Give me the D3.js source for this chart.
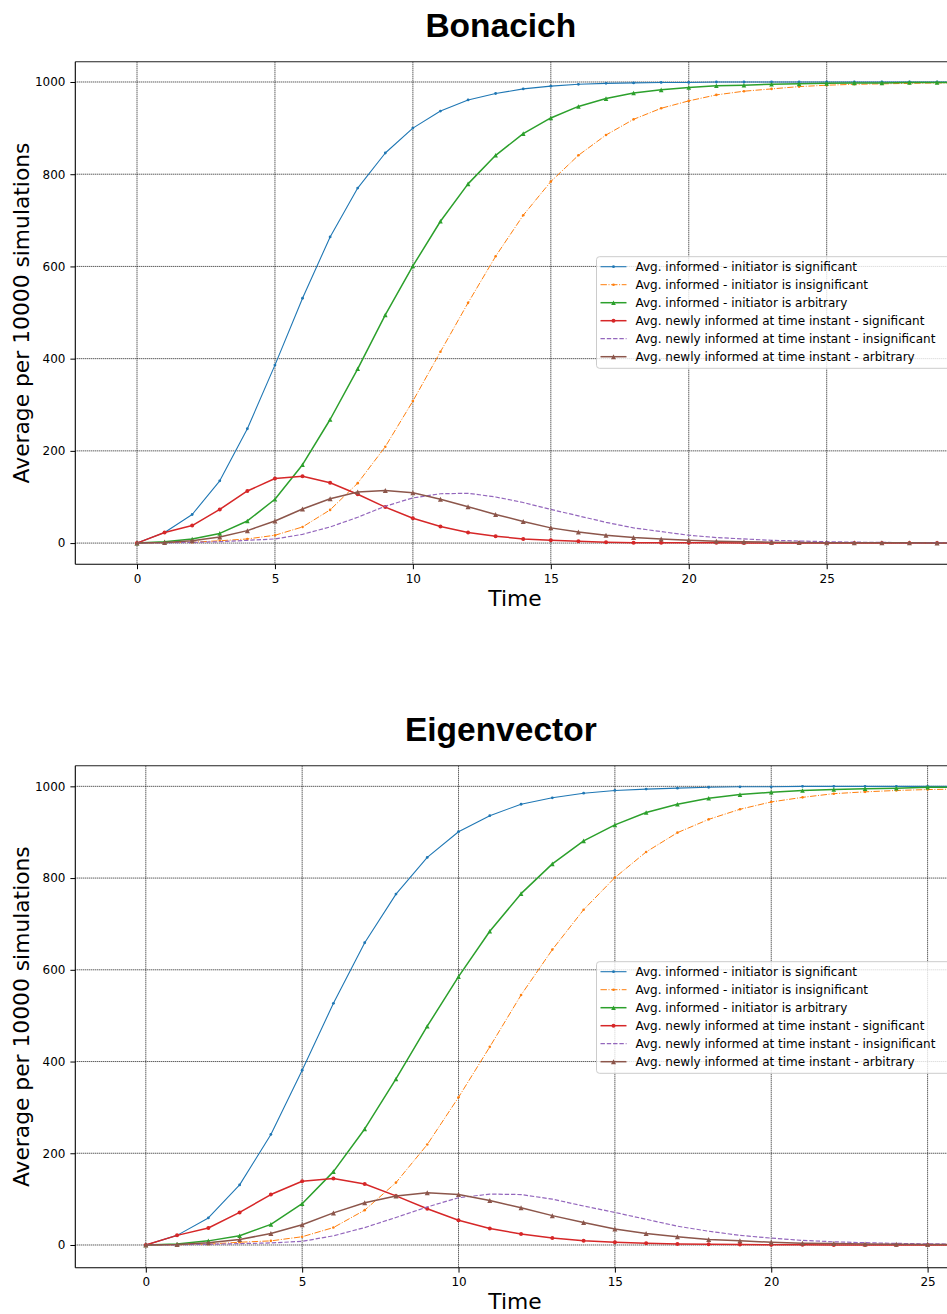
<!DOCTYPE html>
<html>
<head>
<meta charset="utf-8">
<script src="https://cdn.jsdelivr.net/npm/d3@7"></script>
<style>
  html, body { margin: 0; padding: 0; background: #fff; }
  svg { display: block; }
  text { font-family: "DejaVu Sans", sans-serif; }
</style>
</head>
<body>
<svg id="chart" width="947" height="1314"></svg>
<script>
// ---- data -------------------------------------------------------------
const seriesLabels = [
  "Avg. informed - initiator is significant",
  "Avg. informed - initiator is insignificant",
  "Avg. informed - initiator is arbitrary",
  "Avg. newly informed at time instant - significant",
  "Avg. newly informed at time instant - insignificant",
  "Avg. newly informed at time instant - arbitrary"
];
const xTicks = [0, 5, 10, 15, 20, 25, 30];
const yTicks = [0, 200, 400, 600, 800, 1000];

// Bonacich, time steps 0..30
const bonSigInformed   = [0, 23, 62, 135, 248, 386, 531, 664, 770, 846, 900, 937, 961, 975, 985, 991, 995, 997, 998, 999, 999, 1000, 1000, 1000, 1000, 1000, 1000, 1000, 1000, 1000, 1000];
const bonInsigInformed = [0, 1, 2, 5, 9, 17, 35, 72, 130, 209, 308, 415, 521, 622, 711, 784, 841, 885, 919, 943, 959, 972, 980, 985, 990, 993, 995, 996, 997, 998, 998];
const bonArbInformed   = [0, 3, 9, 21, 48, 95, 170, 268, 378, 495, 601, 698, 779, 841, 888, 922, 947, 964, 976, 983, 988, 992, 993, 995, 996, 997, 998, 998, 999, 999, 999];
const bonSigNew        = [0, 23, 38, 73, 113, 140, 145, 131, 106, 78, 54, 36, 23, 15, 9, 6, 4, 2, 1, 1, 0.5, 0.5, 0, 0, 0, 0, 0, 0, 0, 0, 0];
const bonInsigNew      = [0, 0.5, 1.5, 3, 6, 9, 19, 35, 56, 80, 98, 107, 108, 100, 88, 73, 59, 45, 33, 25, 17, 12, 9, 6, 4.5, 3, 2, 1.5, 1, 1, 0.5];
const bonArbNew        = [0, 1.5, 5, 13, 27, 48, 74, 96, 111, 114, 109, 95, 79, 62, 47, 33, 24, 17, 12, 9, 6, 4, 3, 2, 1.5, 1, 1, 0.5, 0.5, 0, 0];

// Eigenvector, time steps 0..27
const eigSigInformed   = [0, 21, 59, 131, 241, 381, 527, 659, 765, 845, 901, 936, 961, 975, 985, 991, 994, 996, 998, 999, 999, 1000, 1000, 1000, 1000, 1000, 1000, 1000];
const eigInsigInformed = [0, 0.5, 2, 6, 9, 18, 38, 76, 136, 219, 322, 432, 545, 644, 731, 801, 857, 899, 928, 950, 966, 976, 984, 988, 991, 993, 994, 995];
const eigArbInformed   = [0, 2, 9, 20, 45, 90, 160, 253, 362, 477, 585, 684, 766, 831, 881, 916, 943, 961, 974, 982, 987, 991, 993, 995, 996, 998, 998, 999];
const eigSigNew        = [0, 21, 37, 71, 110, 139, 145, 133, 107, 79, 54, 36, 24, 15, 9, 6, 4, 2, 1.5, 1, 0.5, 0.5, 0, 0, 0, 0, 0, 0];
const eigInsigNew      = [0, 0.5, 1.5, 3, 4.5, 8, 20, 38, 60, 83, 103, 111, 110, 100, 85, 71, 56, 41, 30, 21, 15, 10, 7, 5, 3.5, 2.5, 2, 1.5];
const eigArbNew        = [0, 1, 5, 12, 25, 44, 70, 92, 107, 114, 110, 97, 81, 64, 49, 35, 25, 18, 12, 9, 6, 4, 3, 2, 1.5, 1, 1, 0.5];

// ---- styles -------------------------------------------------------------
const styles = [
  { color: "#1f77b4", width: 1.1, dash: null,            marker: "dot", r: 1.4 },
  { color: "#ff7f0e", width: 1.0, dash: "6.4,1.6,1,1.6", marker: "dot", r: 1.3 },
  { color: "#2ca02c", width: 1.5, dash: null,            marker: "tri", r: 2.3 },
  { color: "#d62728", width: 1.5, dash: null,            marker: "dot", r: 2.0 },
  { color: "#9467bd", width: 1.2, dash: "4.4,1.9",       marker: null,  r: 0 },
  { color: "#8c564b", width: 1.5, dash: null,            marker: "tri", r: 2.5 }
];

const panels = [
  {
    title: "Bonacich", titleY: 36.7,
    series: [bonSigInformed, bonInsigInformed, bonArbInformed, bonSigNew, bonInsigNew, bonArbNew],
    x0: 137, x25: 826.7, left: 75.3, top: 61.7, bottom: 564.3, yDomain: [-46, 1044],
    timeY: 606, legendTop: 256.7
  },
  {
    title: "Eigenvector", titleY: 741,
    series: [eigSigInformed, eigInsigInformed, eigArbInformed, eigSigNew, eigInsigNew, eigArbNew],
    x0: 145.8, x25: 927.6, left: 75.3, top: 765.7, bottom: 1267.7, yDomain: [-49.5, 1045],
    timeY: 1309, legendTop: 961.7
  }
];

const W = 947;
const svg = d3.select("#chart");

function triPath(h) {
  return `M0,${-h}L${h},${h}L${-h},${h}Z`;
}

panels.forEach((p, pi) => {
  const x = d3.scaleLinear().domain([0, 25]).range([p.x0, p.x25]);
  const y = d3.scaleLinear().domain(p.yDomain).range([p.bottom, p.top]);
  const right = W + 20;
  // only ticks whose labels fall inside the page
  const shownX = xTicks.filter(d => x(d) + 10 <= W);

  const g = svg.append("g");
  const clipId = "plot-clip-" + pi;
  svg.append("clipPath").attr("id", clipId)
    .append("rect")
    .attr("x", p.left).attr("y", p.top)
    .attr("width", right - p.left).attr("height", p.bottom - p.top);

  // title
  g.append("text")
    .attr("x", 500.8).attr("y", p.titleY)
    .attr("text-anchor", "middle")
    .style("font-family", "'Liberation Sans', Arial, sans-serif")
    .style("font-weight", "bold")
    .style("font-size", "33.5px")
    .text(p.title);

  // grid
  const grid = g.append("g").attr("clip-path", `url(#${clipId})`);
  grid.selectAll("line.gx").data(xTicks).join("line")
    .attr("x1", d => x(d)).attr("x2", d => x(d))
    .attr("y1", p.top).attr("y2", p.bottom)
    .attr("stroke", "#000").attr("stroke-width", 0.9).attr("stroke-dasharray", "1,1");
  grid.selectAll("line.gy").data(yTicks).join("line")
    .attr("x1", p.left).attr("x2", right)
    .attr("y1", d => y(d)).attr("y2", d => y(d))
    .attr("stroke", "#000").attr("stroke-width", 0.9).attr("stroke-dasharray", "1,1");

  // data lines and markers
  const plot = g.append("g").attr("clip-path", `url(#${clipId})`);
  p.series.forEach((vals, si) => {
    const st = styles[si];
    const pts = vals.map((v, t) => ({ t, v }));
    const line = d3.line().x(d => x(d.t)).y(d => y(d.v));
    plot.append("path")
      .attr("d", line(pts))
      .attr("fill", "none")
      .attr("stroke", st.color)
      .attr("stroke-width", st.width)
      .attr("stroke-dasharray", st.dash)
      .attr("stroke-linejoin", "round");
    if (st.marker === "dot") {
      plot.append("g").selectAll("circle").data(pts).join("circle")
        .attr("cx", d => x(d.t)).attr("cy", d => y(d.v)).attr("r", st.r)
        .attr("fill", st.color);
    } else if (st.marker === "tri") {
      plot.append("g").selectAll("path").data(pts).join("path")
        .attr("transform", d => `translate(${x(d.t)},${y(d.v)})`)
        .attr("d", triPath(st.r))
        .attr("fill", st.color);
    }
  });

  // spines
  g.append("line").attr("x1", p.left).attr("x2", right).attr("y1", p.top).attr("y2", p.top)
    .attr("stroke", "#222").attr("stroke-width", 1.1);
  g.append("line").attr("x1", p.left).attr("x2", right).attr("y1", p.bottom).attr("y2", p.bottom)
    .attr("stroke", "#000").attr("stroke-width", 1.1);
  g.append("line").attr("x1", p.left).attr("x2", p.left).attr("y1", p.top).attr("y2", p.bottom)
    .attr("stroke", "#000").attr("stroke-width", 1.1);

  // axes
  const xAxis = d3.axisBottom(x).tickValues(shownX).tickSize(4.9).tickPadding(4.9).tickFormat(d3.format("d"));
  const yAxis = d3.axisLeft(y).tickValues(yTicks).tickSize(4.9).tickPadding(4.9).tickFormat(d3.format("d"));
  const gx = g.append("g").attr("transform", `translate(0,${p.bottom})`).call(xAxis);
  const gy = g.append("g").attr("transform", `translate(${p.left},0)`).call(yAxis);
  [gx, gy].forEach(a => {
    a.select(".domain").remove();
    a.selectAll("line").attr("stroke", "#000").attr("stroke-width", 1);
    a.selectAll("text").attr("fill", "#000")
      .style("font-family", "'DejaVu Sans', sans-serif").style("font-size", "12px");
  });

  // axis labels
  g.append("text")
    .attr("transform", `translate(29,${(p.top + p.bottom) / 2}) rotate(-90)`)
    .attr("text-anchor", "middle")
    .style("font-size", "21.8px")
    .text("Average per 10000 simulations");
  g.append("text")
    .attr("x", 515).attr("y", p.timeY)
    .attr("text-anchor", "middle")
    .style("font-size", "21.8px")
    .text("Time");

  // legend
  const lg = g.append("g").attr("transform", `translate(596.5,${p.legendTop})`);
  lg.append("rect")
    .attr("x", 0).attr("y", 0).attr("width", 420).attr("height", 111.6)
    .attr("rx", 3)
    .attr("fill", "#fff").attr("fill-opacity", 0.8)
    .attr("stroke", "#cccccc").attr("stroke-width", 1);
  seriesLabels.forEach((lab, i) => {
    const st = styles[i];
    const cy = 10 + i * 18;
    const row = lg.append("g").attr("transform", `translate(0,${cy})`);
    row.append("line")
      .attr("x1", 4).attr("x2", 30).attr("y1", 0).attr("y2", 0)
      .attr("stroke", st.color).attr("stroke-width", st.width)
      .attr("stroke-dasharray", st.dash);
    if (st.marker === "dot") {
      row.append("circle").attr("cx", 17).attr("cy", 0).attr("r", st.r).attr("fill", st.color);
    } else if (st.marker === "tri") {
      row.append("path").attr("transform", "translate(17,0)").attr("d", triPath(st.r)).attr("fill", st.color);
    }
    row.append("text")
      .attr("x", 39).attr("y", 4.4)
      .style("font-size", "12px")
      .attr("fill", "#000")
      .text(lab);
  });
});
</script>
</body>
</html>
